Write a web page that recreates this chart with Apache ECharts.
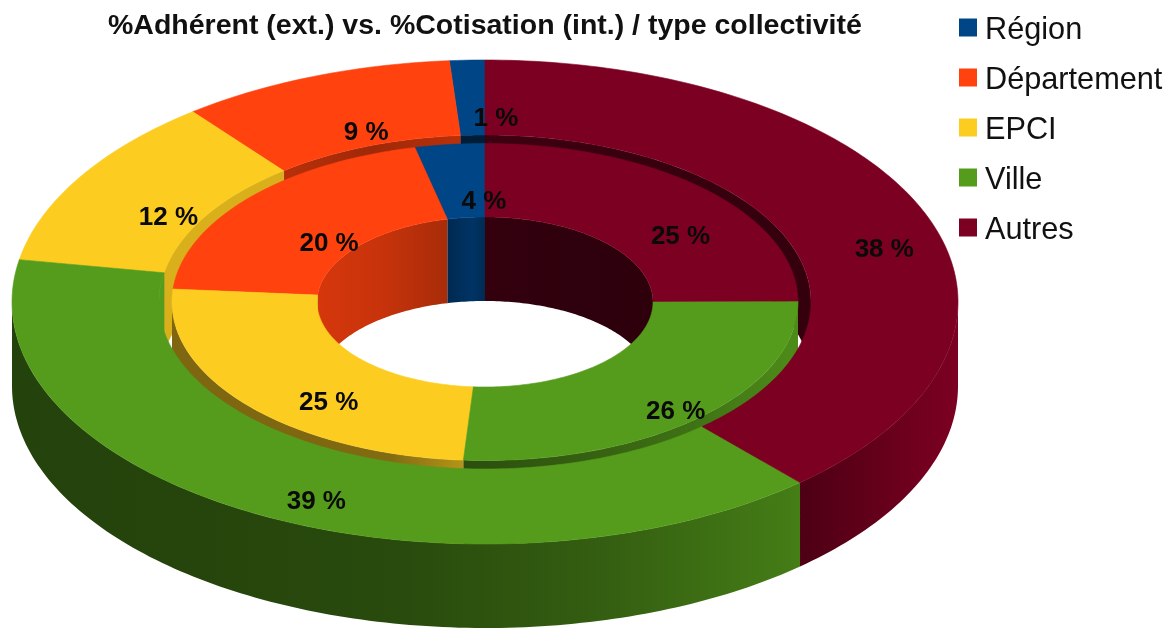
<!DOCTYPE html>
<html><head><meta charset="utf-8">
<style>html,body{margin:0;padding:0;background:#fff}#c{width:1175px;height:628px}</style>
<script src="https://cdn.jsdelivr.net/npm/echarts@6/dist/echarts.min.js"></script>
</head><body><div id="c"></div>
<script>
const titleText = '%Adhérent (ext.) vs. %Cotisation (int.) / type collectivité';
const categories = ['Région', 'Département', 'EPCI', 'Ville', 'Autres'];
const outerValues = [1.2, 9.4, 11.6, 39.4, 38.4];
const innerValues = [3.6, 20.1, 25.2, 26.2, 24.9];
const palette = ['#004586', '#ff420e', '#fccd20', '#569c1c', '#7c0021'];

// Projection of the tilted donut
const CX = 485, CY = 302, DEPTH = 84;
const E = { outer: [473, 242], gap: [326, 167], inner: [313, 158.5], hole: [168, 85] };
const LABEL_SHIFT = [26, 21];

function shade(hex, f) {
  const n = parseInt(hex.slice(1), 16);
  const c = [n >> 16, (n >> 8) & 255, n & 255].map(v => Math.round(v * f));
  return 'rgb(' + c.join(',') + ')';
}
function pt(e, deg, dy) { // deg: clockwise from 12 o'clock
  const a = deg * Math.PI / 180;
  return [CX + e[0] * Math.sin(a), CY - e[1] * Math.cos(a) + (dy || 0)];
}
function arc(e, a0, a1, dy) {
  const pts = [], n = Math.max(2, Math.ceil(Math.abs(a1 - a0)));
  for (let i = 0; i <= n; i++) pts.push(pt(e, a0 + (a1 - a0) * i / n, dy));
  return pts;
}
function band(e1, e2, a0, a1, dy1, dy2) {
  return arc(e1, a0, a1, dy1).concat(arc(e2, a1, a0, dy2));
}
function clipRange(a0, a1, lo, hi) {
  const s = Math.max(a0, lo), t = Math.min(a1, hi);
  return t > s ? [s, t] : null;
}
function grad(color, stops) {
  if (stops.length === 1) return shade(color, stops[0]);
  return { type: 'linear', x: 0, y: 0, x2: 1, y2: 0,
    colorStops: stops.map((f, i) => ({ offset: i / (stops.length - 1), color: shade(color, f) })) };
}
// wall shading, left-to-right, by category index
const wallShade = {
  outerFront: { 3: [.42, .44, .48, .6, .8], 4: [.62, .74, .88, 1] },
  gapBack:    { 0: [.42], 1: [.72, .62, .72], 2: [.86], 3: [1], 4: [.5, .45, .42] },
  innerFront: { 2: [.5, .5, .5, .52, .72], 3: [.5, .6, .72, .9] },
  holeBack:   { 0: [.6, .68, .75, .62], 1: [.84, .78, .66], 2: [.84], 4: [.42, .38, .36] }
};

function renderSlice(params, api) {
  const ring = api.value(0), value = api.value(1), before = api.value(2), k = params.seriesIndex;
  const color = palette[k], total = 100;
  const a0 = 360 - (before + value) / total * 360, a1 = 360 - before / total * 360;
  const children = [];
  const poly = (points, fill, z2) => children.push({ type: 'polygon', z2: z2,
    shape: { points: points }, style: { fill: fill, stroke: typeof fill === 'string' ? fill : null, lineWidth: typeof fill === 'string' ? .6 : 0 } });
  const wall = (e, lo, hi, depth, z2, table) => {
    [[lo, hi], [lo + 360, hi + 360], [lo - 360, hi - 360]].forEach(r => {
      const c = clipRange(a0, a1, r[0], r[1]);
      if (c && table[k]) poly(arc(e, c[0], c[1], 0).concat(arc(e, c[1], c[0], depth)), grad(color, table[k]), z2);
    });
  };
  if (ring === 0) {
    wall(E.outer, 90, 270, DEPTH, 1, wallShade.outerFront);
    wall(E.gap, 270, 450, 79, 2, wallShade.gapBack);
    poly(band(E.outer, E.gap, a0, a1), color, 4);
  } else {
    wall(E.inner, 90, 270, DEPTH, 3, wallShade.innerFront);
    wall(E.hole, 270, 450, DEPTH, 5, wallShade.holeBack);
    poly(band(E.inner, E.hole, a0, a1), color, 6);
  }
  const eo = ring === 0 ? E.outer : E.inner, ei = ring === 0 ? E.gap : E.hole;
  const mid = pt([(eo[0] + ei[0]) / 2, (eo[1] + ei[1]) / 2], (a0 + a1) / 2);
  children.push({ type: 'text', z2: 20, style: {
    x: mid[0] + LABEL_SHIFT[0], y: mid[1] + LABEL_SHIFT[1],
    text: Math.round(value) + ' %', fill: '#0a0a0a', align: 'center', verticalAlign: 'middle',
    font: 'bold 26px "Liberation Sans", Arial, sans-serif' } });
  return { type: 'group', children: children };
}

function rowsFor(i) {
  const sum = a => a.slice(0, i).reduce((s, v) => s + v, 0);
  return [[0, outerValues[i], sum(outerValues)], [1, innerValues[i], sum(innerValues)]];
}

const chart = echarts.init(document.getElementById('c'), null, { renderer: 'canvas' });
chart.setOption({
  animation: false,
  backgroundColor: '#fff',
  color: palette,
  title: { text: titleText, left: 103, top: 7,
    textStyle: { fontFamily: '"Liberation Sans", Arial, sans-serif', fontWeight: 'bold', fontSize: 28.5, color: '#111' } },
  legend: { orient: 'vertical', left: 954, top: 4, icon: 'rect', itemWidth: 18, itemHeight: 18, itemGap: 13,
    data: categories,
    formatter: '{t|{name}}',
    textStyle: { rich: { t: { fontFamily: '"Liberation Sans", Arial, sans-serif', fontSize: 30.7, color: '#111', lineHeight: 30, padding: [6, 0, 0, 3] } } } },
  series: categories.map((name, i) => ({
    type: 'custom', name: name, coordinateSystem: 'none', renderItem: renderSlice,
    itemStyle: { color: palette[i] }, silent: true, clip: false,
    data: rowsFor(i)
  }))
});
</script></body></html>
